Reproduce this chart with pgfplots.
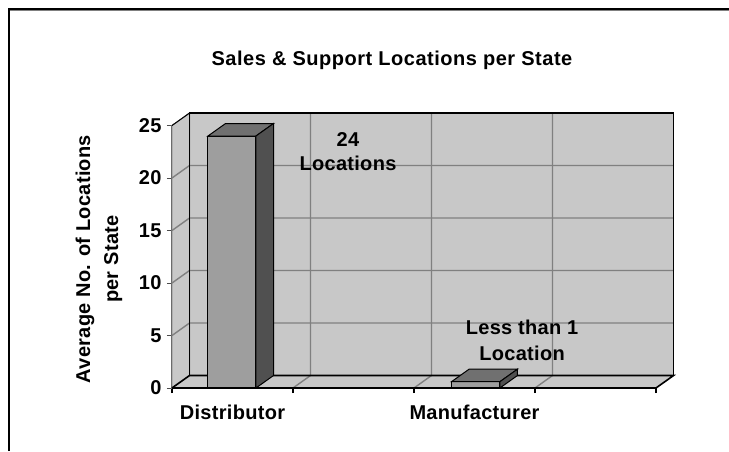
\documentclass[border=0pt]{standalone}
\usepackage{fontspec}
\setmainfont{Liberation Sans}
\usepackage{pgfplots}
\pgfplotsset{compat=1.18}
\definecolor{wall}{HTML}{C8C8C8}
\definecolor{gridc}{HTML}{808080}
\definecolor{barfront}{HTML}{9E9E9E}
\definecolor{bartop}{HTML}{707070}
\definecolor{barside}{HTML}{505050}
\newcommand{\lab}{\fontsize{20}{28}\selectfont\bfseries\addfontfeature{LetterSpace=1.5}}
\begin{document}
\begin{tikzpicture}[x=1pt,y=1pt]
% page is the 729x451 canvas, axis origin sits at pixel (172,388)
\path[use as bounding box] (-172,-63) rectangle (557,388);
\begin{axis}[
  at={(0,0)}, anchor=south west,
  scale only axis, width=484pt, height=262.5pt,
  xmin=0, xmax=4, ymin=0, ymax=25,
  axis x line*=bottom, axis y line*=left,
  clip=false, no markers,
  tick align=outside,
  major tick length=5pt, minor tick length=5pt,
  xtick={0.5,2.5}, xticklabels={Distributor,Manufacturer},
  minor xtick={0,1,2,3,4},
  major x tick style={draw=none},
  minor x tick style={black,line width=1.2pt},
  ytick={0,5,10,15,20,25},
  y tick style={black!70,line width=1pt},
  /pgf/number format/assume math mode=true,
  tick label style={font=\lab},
  xticklabel style={yshift=-8pt},
  yticklabel style={xshift=-2pt},
  axis line style={black!80,line width=1.5pt},
  ylabel={Average No. of Locations\\per State},
  every axis y label/.style={at={(axis description cs:-0.151,0.491)},rotate=90,anchor=center,font=\lab,align=center},
]
% walls and floor
\addplot[fill=wall,draw=none] coordinates {(.145,1.19) (4.145,1.19) (4.145,26.19) (.145,26.19)} --cycle;
\addplot[fill=wall,draw=gridc,line width=1pt] coordinates {(0,0) (.145,1.19) (.145,26.19) (0,25)} --cycle;
\addplot[fill=wall,draw=none] coordinates {(0,0) (4,0) (4.145,1.19) (.145,1.19)} --cycle;
% grid on the back wall and the side wall
\addplot[gridc,line width=1.4pt] coordinates {(0,5) (.145,6.19) (4.145,6.19)};
\addplot[gridc,line width=1.4pt] coordinates {(0,10) (.145,11.19) (4.145,11.19)};
\addplot[gridc,line width=1.4pt] coordinates {(0,15) (.145,16.19) (4.145,16.19)};
\addplot[gridc,line width=1.4pt] coordinates {(0,20) (.145,21.19) (4.145,21.19)};
\addplot[gridc,line width=1.4pt] coordinates {(1,0) (1.145,1.19) (1.145,26.19)};
\addplot[gridc,line width=1.4pt] coordinates {(2,0) (2.145,1.19) (2.145,26.19)};
\addplot[gridc,line width=1.4pt] coordinates {(3,0) (3.145,1.19) (3.145,26.19)};
% wall outline
\addplot[black,line width=1.6pt] coordinates {(0,0) (.145,1.19) (4.145,1.19) (4,0)};
\addplot[black,line width=1.6pt] coordinates {(.145,1.19) (.145,26.19) (4.145,26.19) (4.145,1.19)};
\addplot[black,line width=1pt] coordinates {(0,25) (.145,26.19)};
% Distributor, 24
\addplot[fill=barfront,draw=black,line width=1pt] coordinates {(.2975,0) (.694,0) (.694,24) (.2975,24)} --cycle;
\addplot[fill=bartop,draw=black,line width=1pt] coordinates {(.2975,24) (.694,24) (.839,25.19) (.4425,25.19)} --cycle;
\addplot[fill=barside,draw=black,line width=1pt] coordinates {(.694,0) (.839,1.19) (.839,25.19) (.694,24)} --cycle;
% Manufacturer, under 1
\addplot[fill=barfront,draw=black,line width=1pt] coordinates {(2.31,0) (2.71,0) (2.71,.6) (2.31,.6)} --cycle;
\addplot[fill=bartop,draw=black,line width=1pt] coordinates {(2.31,.6) (2.71,.6) (2.855,1.79) (2.455,1.79)} --cycle;
\addplot[fill=barside,draw=black,line width=1pt] coordinates {(2.71,0) (2.855,1.19) (2.855,1.79) (2.71,.6)} --cycle;
\addplot[black,line width=2pt] coordinates {(0,0) (4,0)};
% text
\node[font=\fontsize{20}{24}\selectfont\bfseries\addfontfeature{LetterSpace=2.6}] at (axis cs:1.818,31.24) {Sales \& Support Locations per State};
\node[font=\lab] at (axis cs:1.4545,23.7) {24};
\node[font=\lab] at (axis cs:1.4545,21.43) {Locations};
\node[font=\lab] at (axis cs:2.893,5.81) {Less than 1};
\node[font=\lab] at (axis cs:2.893,3.33) {Location};
\end{axis}
% outer frame, top and left edges only
\draw[gridc,line width=1pt] (-162,-63) -- (-162,377.5) -- (557,377.5);
\draw[black,line width=2.4pt] (-163.2,-63) -- (-163.2,379) -- (557,379);
\end{tikzpicture}
\end{document}
